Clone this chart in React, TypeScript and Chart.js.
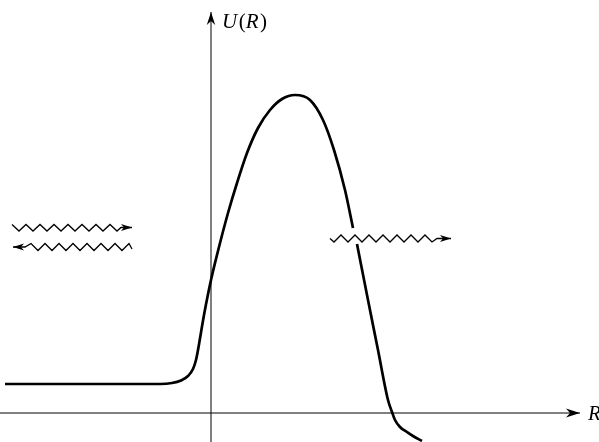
import { useEffect, useRef } from "react";
import { Chart, registerables } from "chart.js";

Chart.register(...registerables);

// Potential curve U(R), split where the outgoing wave crosses it
const curveUpperR = [-2.06, -0.91, -0.51, -0.39, -0.3, -0.23, -0.18, -0.15, -0.13, -0.07, 0.0, 0.08, 0.17, 0.26, 0.36, 0.47, 0.59, 0.71, 0.84, 0.99, 1.12, 1.23, 1.34, 1.42];
const curveUpperU = [0.29, 0.29, 0.29, 0.3, 0.325, 0.37, 0.44, 0.53, 0.63, 0.98, 1.33, 1.66, 2.0, 2.3, 2.6, 2.85, 3.03, 3.14, 3.18, 3.13, 2.93, 2.63, 2.23, 1.85];
const curveLowerR = [1.46, 1.57, 1.67, 1.77, 1.81, 1.84, 1.89, 1.96, 2.02, 2.11];
const curveLowerU = [1.69, 1.13, 0.63, 0.13, 0.01, -0.07, -0.14, -0.19, -0.23, -0.28];

// Incoming wave (left, pointing right)
const waveInR = [-1.99, -1.92, -1.85, -1.78, -1.71, -1.64, -1.57, -1.5, -1.43, -1.36, -1.29, -1.22, -1.15, -1.08, -1.01, -0.94, -0.9, -0.79];
const waveInU = [1.885, 1.82, 1.885, 1.82, 1.885, 1.82, 1.885, 1.82, 1.885, 1.82, 1.885, 1.82, 1.885, 1.82, 1.885, 1.82, 1.855, 1.855];

// Reflected wave (left, pointing left; tip first)
const waveRefR = [-1.98, -1.86, -1.8, -1.73, -1.66, -1.59, -1.52, -1.45, -1.38, -1.31, -1.24, -1.17, -1.1, -1.03, -0.96, -0.89, -0.82, -0.79];
const waveRefU = [1.66, 1.66, 1.695, 1.625, 1.695, 1.625, 1.695, 1.625, 1.695, 1.625, 1.695, 1.625, 1.695, 1.625, 1.695, 1.625, 1.695, 1.64];

// Transmitted wave (right, pointing right)
const waveOutR = [1.19, 1.23, 1.3, 1.37, 1.44, 1.51, 1.58, 1.65, 1.72, 1.79, 1.86, 1.93, 2.0, 2.07, 2.14, 2.21, 2.26, 2.4];
const waveOutU = [1.745, 1.71, 1.78, 1.71, 1.78, 1.71, 1.78, 1.71, 1.78, 1.71, 1.78, 1.71, 1.78, 1.71, 1.78, 1.71, 1.745, 1.745];

// Axes extents
const axisHR = [-2.11, 3.69];
const axisHU = [0, 0];
const axisVR = [0, 0];
const axisVU = [-0.29, 4.01];

const xMin = -2.11;
const xMax = 3.88;
const yMin = -0.29;
const yMax = 4.13;

const labelUR = { r: 0.11, u: 3.855 };
const labelR = { r: 3.77, u: -0.07 };

const toPts = (r: number[], u: number[]) => r.map((x, i) => ({ x, y: u[i] }));

const arrowPlugin = {
  id: "arrowheads",
  afterDatasetsDraw(chart: any) {
    const ctx = chart.ctx;
    chart.data.datasets.forEach((ds: any, i: number) => {
      if (!ds.arrow) return;
      const pts = chart.getDatasetMeta(i).data;
      let tip: any, prev: any;
      if (ds.arrow === "end") {
        tip = pts[pts.length - 1];
        prev = pts[pts.length - 2];
      } else {
        tip = pts[0];
        prev = pts[1];
      }
      const ang = Math.atan2(tip.y - prev.y, tip.x - prev.x);
      const { len, hw, notch } = ds.arrowSize;
      ctx.save();
      ctx.translate(tip.x, tip.y);
      ctx.rotate(ang);
      ctx.beginPath();
      ctx.moveTo(0, 0);
      ctx.lineTo(-len, -hw);
      ctx.lineTo(-len + notch, 0);
      ctx.lineTo(-len, hw);
      ctx.closePath();
      ctx.fillStyle = "#000";
      ctx.fill();
      ctx.restore();
    });
  },
};

const FONT = `"Liberation Serif", "Times New Roman", Tinos, serif`;

const drawMixed = (ctx: CanvasRenderingContext2D, x: number, y: number, parts: [string, boolean][], size: number) => {
  let cx = x;
  for (const [t, italic] of parts) {
    ctx.font = `${italic ? "italic " : ""}${size}px ${FONT}`;
    ctx.fillText(t, cx, y);
    cx += ctx.measureText(t).width + (italic ? size * 0.07 : 0);
  }
};

const labelPlugin = {
  id: "axisLabels",
  afterDraw(chart: any) {
    const ctx = chart.ctx as CanvasRenderingContext2D;
    const xs = chart.scales.x;
    const ys = chart.scales.y;
    ctx.save();
    ctx.fillStyle = "#000";
    ctx.textBaseline = "alphabetic";
    ctx.textAlign = "left";
    drawMixed(ctx, xs.getPixelForValue(labelUR.r), ys.getPixelForValue(labelUR.u), [["U", true], ["(", false], ["R", true], [")", false]], 21);
    drawMixed(ctx, xs.getPixelForValue(labelR.r), ys.getPixelForValue(labelR.u), [["R", true]], 21);
    ctx.restore();
  },
};

export default function App() {
  const ref = useRef<HTMLCanvasElement>(null);

  useEffect(() => {
    if (!ref.current) return;
    const base = {
      showLine: true,
      pointRadius: 0,
      pointHoverRadius: 0,
      borderColor: "#000",
      backgroundColor: "#000",
      fill: false,
    };
    const chart = new Chart(ref.current, {
      type: "scatter",
      data: {
        datasets: [
          { ...base, data: toPts(axisHR, axisHU), borderWidth: 1, arrow: "end", arrowSize: { len: 14, hw: 4.5, notch: 4 } } as any,
          { ...base, data: toPts(axisVR, axisVU), borderWidth: 1, arrow: "end", arrowSize: { len: 13, hw: 4.2, notch: 4 } } as any,
          { ...base, data: toPts(curveUpperR, curveUpperU), borderWidth: 2.7, cubicInterpolationMode: "monotone" } as any,
          { ...base, data: toPts(curveLowerR, curveLowerU), borderWidth: 2.7, cubicInterpolationMode: "monotone" } as any,
          { ...base, data: toPts(waveInR, waveInU), borderWidth: 1.3, arrow: "end", arrowSize: { len: 11, hw: 3.5, notch: 3 } } as any,
          { ...base, data: toPts(waveRefR, waveRefU), borderWidth: 1.3, arrow: "start", arrowSize: { len: 11, hw: 3.5, notch: 3 } } as any,
          { ...base, data: toPts(waveOutR, waveOutU), borderWidth: 1.3, arrow: "end", arrowSize: { len: 11, hw: 3.5, notch: 3 } } as any,
        ],
      },
      options: {
        animation: false,
        responsive: false,
        devicePixelRatio: 1,
        layout: { padding: 0 },
        events: [],
        plugins: { legend: { display: false }, tooltip: { enabled: false }, title: { display: false } },
        scales: {
          x: { type: "linear", display: false, min: xMin, max: xMax },
          y: { type: "linear", display: false, min: yMin, max: yMax },
        },
      },
      plugins: [arrowPlugin, labelPlugin],
    });
    return () => chart.destroy();
  }, []);

  return (
    <div style={{ position: "absolute", left: 0, top: 0, width: 599, height: 442, background: "#fff" }}>
      <canvas ref={ref} width={599} height={442} style={{ display: "block", width: 599, height: 442 }} />
    </div>
  );
}
